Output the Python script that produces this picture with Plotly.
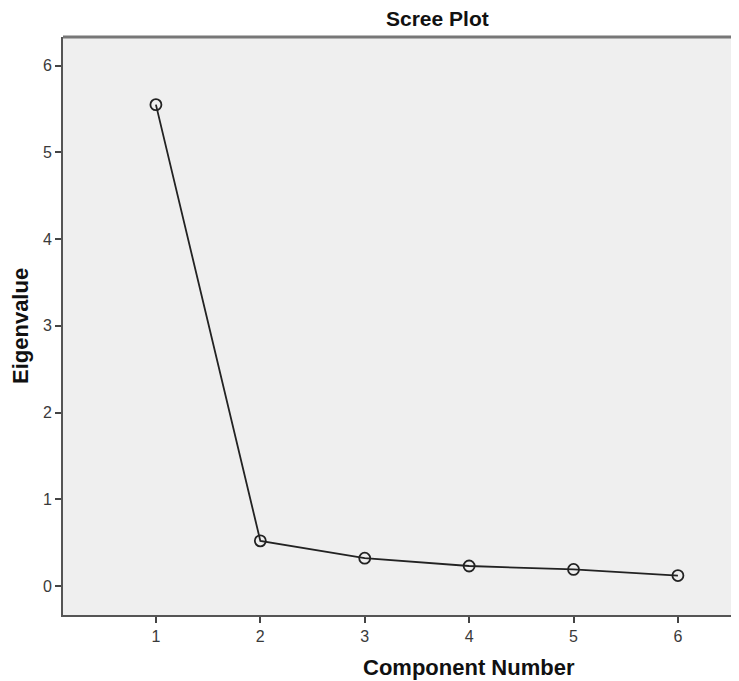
import plotly.graph_objects as go

components = [1, 2, 3, 4, 5, 6]
eigenvalues = [5.55, 0.52, 0.32, 0.23, 0.19, 0.12]
x_ticks = [1, 2, 3, 4, 5, 6]
y_ticks = [0, 1, 2, 3, 4, 5, 6]

FONT = "Liberation Sans, Arial, sans-serif"

fig = go.Figure()
fig.add_trace(go.Scatter(
    x=components, y=eigenvalues, mode="lines+markers",
    line=dict(color="#222222", width=1.8),
    marker=dict(symbol="circle-open", size=11, color="#222222", line=dict(width=1.8)),
    showlegend=False,
))

axis_common = dict(
    showgrid=False, zeroline=False, showline=True, linecolor="#555555", linewidth=2,
    ticks="outside", ticklen=6, tickwidth=2, tickcolor="#444444",
    tickfont=dict(family=FONT, size=16, color="#3a3a3a"),
)

L, T, B, W, H = 55, 29, 66, 739, 673
PW = W - L
PH = H - T - B

fig.update_layout(
    width=W, height=H,
    margin=dict(l=L, r=0, t=T, b=B),
    paper_bgcolor="white", plot_bgcolor="#efefef",
    xaxis=dict(range=[0.11, 0.11 + PW / 104.4], tickvals=x_ticks, **axis_common),
    yaxis=dict(range=[-0.335, 6.33], tickvals=y_ticks, **axis_common),
    shapes=[dict(type="line", xref="paper", yref="paper", x0=0, x1=1, y0=1, y1=1,
                 line=dict(color="#777777", width=3))],
    annotations=[
        dict(text="<b>Scree Plot</b>", xref="paper", yref="paper", x=(429 - L) / PW, y=1,
             yshift=19, showarrow=False, xanchor="center", yanchor="middle",
             font=dict(family=FONT, size=21, color="#111111")),
        dict(text="<b>Component Number</b>", xref="paper", yref="paper", x=(461 - L) / PW, y=0,
             yshift=-52, showarrow=False, xanchor="center", yanchor="middle",
             font=dict(family=FONT, size=22, color="#111111")),
        dict(text="<b>Eigenvalue</b>", xref="paper", yref="paper", x=0, xshift=-43,
             y=(H - B - 318) / PH, showarrow=False, textangle=-90, xanchor="center", yanchor="middle",
             font=dict(family=FONT, size=22, color="#111111")),
    ],
)

fig.write_html("out.html")
